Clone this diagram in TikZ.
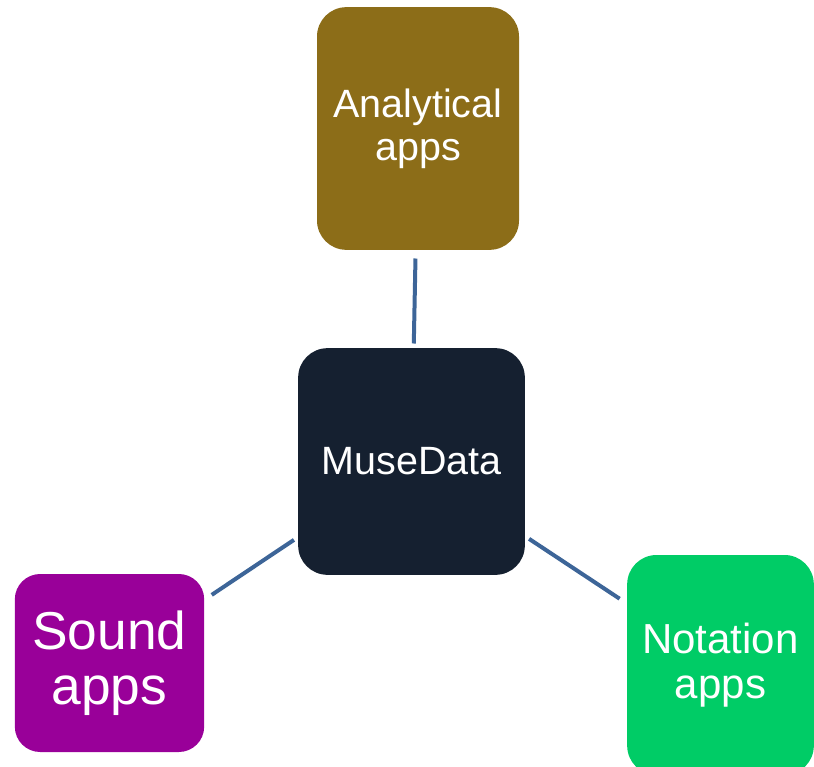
\documentclass[tikz,border=0pt]{standalone}
\usepackage{fontspec}
\setmainfont{Liberation Sans}
\definecolor{anabrown}{HTML}{8C6D18}
\definecolor{musenavy}{HTML}{152030}
\definecolor{soundpurple}{HTML}{990099}
\definecolor{notagreen}{HTML}{00CC66}
\definecolor{linkblue}{HTML}{3D6598}

\begin{document}
\begin{tikzpicture}[x=0.75pt, y=-0.75pt, line width=3pt, linkblue, box/.style={rectangle, rounded corners=22pt, inner sep=0pt, text=white, align=center}, link/.style={shorten <=2pt, shorten >=5pt}]
		\useasboundingbox (0,0) rectangle (814,767);
		\node[box, fill=musenavy, minimum width=170pt, minimum height=170pt, font=\fontsize{29.6}{33}\selectfont] (M) at (411.5,461.5) {MuseData};
		\node[box, fill=anabrown, minimum width=151.5pt, minimum height=182pt, font=\fontsize{29.6}{32}\selectfont] (A) at (418,128.5) {Analytical\\apps};
		\node[box, fill=soundpurple, minimum width=142pt, minimum height=133.5pt, rounded corners=19pt, font=\fontsize{40}{41}\selectfont] (S) at (109.5,663) {Sound\\apps};
		\node[box, fill=notagreen, minimum width=140pt, minimum height=165pt, font=\fontsize{31.5}{34}\selectfont] (N) at (720.5,665) {Notation\\apps};
		\path (M) edge [link] (A);
		\path (M) edge [link] (S);
		\path (M) edge [link] (N);
	\end{tikzpicture}
\end{document}
